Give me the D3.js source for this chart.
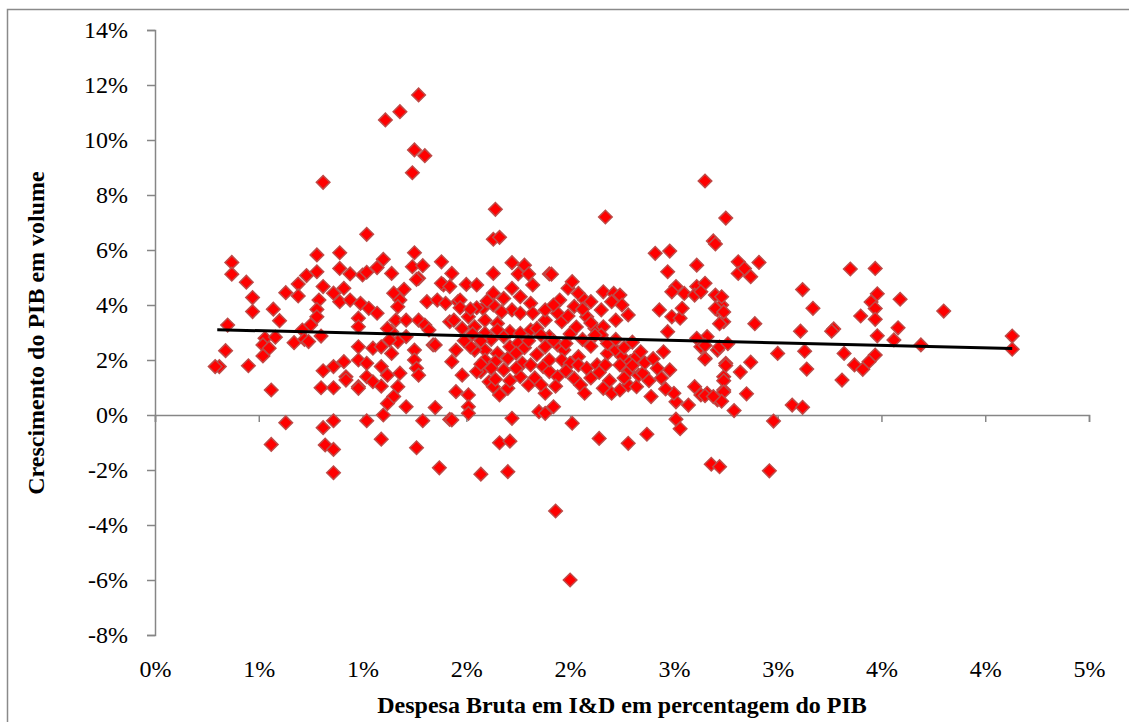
<!DOCTYPE html>
<html>
<head>
<meta charset="utf-8">
<script src="https://cdn.jsdelivr.net/npm/d3@7"></script>
<style>
  body { margin: 0; background: #fff; }
  text { font-family: "Times New Roman", "Liberation Serif", serif; }
</style>
</head>
<body>
<div id="chart"></div>
<script>
// R&D expenditure (% of GDP) vs GDP volume growth (%)
var rdPct = [
  1.27,1.18,1.11,1.25,1.30,1.24,0.81,1.64,1.63,1.66,1.02,0.37,0.37,0.78,0.78,0.89,0.89,0.94,1.00,1.02,
  1.10,1.07,1.14,1.25,1.24,1.29,1.27,1.38,1.43,1.63,1.72,1.75,1.78,1.80,1.90,
  0.44,0.47,0.47,0.35,0.34,0.31,0.29,0.45,0.57,0.60,0.63,0.69,0.69,0.73,0.81,0.79,0.78,0.78,0.75,0.71,
  0.53,0.52,0.55,0.52,0.58,0.67,0.72,0.74,0.80,0.56,0.81,0.86,0.80,0.86,0.86,0.89,0.91,0.94,0.99,1.03,
  1.07,0.98,0.98,0.98,0.98,1.02,1.05,1.09,0.91,0.92,0.98,1.02,1.05,1.09,1.09,1.12,1.14,1.18,1.17,1.15,
  1.12,1.10,1.21,1.35,0.63,0.81,0.86,0.56,0.82,0.86,0.86,1.02,1.09,1.26,1.29,1.37,1.42,1.26,1.15,1.20,
  1.18,1.17,1.16,1.21,1.14,1.12,1.27,1.30,1.32,1.34,1.25,1.25,1.21,1.17,1.13,1.31,1.36,1.40,1.39,1.42,
  1.26,1.27,0.92,0.98,
  1.38,1.42,1.46,1.47,1.44,1.51,1.48,1.54,1.35,1.45,1.43,1.48,1.45,1.51,1.51,1.51,1.50,1.55,1.82,1.91,
  1.72,1.76,1.68,1.63,1.63,1.58,1.59,1.65,1.72,1.76,1.81,1.82,1.59,1.65,1.71,1.76,1.81,1.84,1.59,1.65,
  1.71,1.75,1.54,1.52,1.59,1.64,1.70,1.57,1.62,1.68,1.55,1.61,1.63,1.66,1.70,1.76,1.80,1.88,1.77,1.81,
  1.87,1.90,1.94,1.90,1.88,1.94,1.97,1.90,1.88,1.88,1.94,1.95,1.96,1.99,2.01,2.04,2.07,2.10,2.08,2.12,
  2.15,2.16,2.21,2.24,2.20,2.25,2.28,2.22,2.16,2.15,1.96,2.00,2.04,2.04,2.08,2.13,2.17,2.18,2.22,2.25,
  2.29,2.32,2.28,2.24,2.02,2.05,2.07,2.16,2.20,2.24,2.28,2.32,2.33,2.35,2.39,2.42,2.45,2.48,2.47,2.49,
  2.53,2.54,2.51,2.55,2.61,2.49,2.43,2.47,2.61,2.41,2.60,2.65,2.70,2.73,2.71,2.74,2.66,2.61,2.63,2.65,
  2.71,2.75,2.74,2.74,2.71,2.66,2.63,2.60,2.57,2.53,2.51,2.51,2.50,1.43,1.72,1.66,1.71,1.57,1.70,2.01,
  2.14,2.28,2.37,2.68,2.72,1.85,1.88,1.92,1.93,2.00,
  2.81,2.91,2.81,2.87,2.84,3.35,3.47,3.12,3.17,3.11,3.27,3.26,3.48,3.45,3.47,3.47,3.40,3.59,3.80,3.48,
  3.58,3.56,3.69,4.13,4.13,3.00,3.13,3.32,3.47,3.44,3.37,3.41,3.31,3.14,3.07,3.12,2.98,2.96,
  2.63,2.73,2.70,2.74,2.72,2.65,2.72,2.76,2.65,2.75,2.74,2.82,2.87,2.89,2.85,2.79,2.74,2.73,2.65,2.69,
  2.17,2.65,2.75,2.69,2.70,2.48,
  1.55,1.60,1.67,1.62,1.68,1.74,1.78,1.80,1.84,1.86,1.92,1.98,2.00,2.03,2.06,2.10,2.12,2.18,2.22,2.26,
  2.30,2.34,1.99,2.02,2.06,2.10,1.92,1.57,1.53,1.49,1.47,1.52,1.57,1.64,1.71,1.74,1.83,1.86,1.93,1.98,
  2.10,2.14,2.19,2.26,2.30,2.36,2.40,2.38,2.44,2.46
];
var gdpGrowth = [
  11.64,11.03,10.73,9.64,9.43,8.81,8.46,7.48,6.39,6.46,6.57,5.55,5.12,5.82,5.21,5.90,5.33,5.13,5.09,5.19,
  5.66,5.36,5.15,5.90,5.39,5.43,4.97,5.57,5.15,5.15,5.54,5.13,5.45,5.13,5.13,
  4.83,4.27,3.76,3.27,2.34,1.76,1.76,1.79,3.85,3.43,4.45,4.76,4.33,5.07,4.67,4.18,3.84,3.57,3.27,3.09,
  2.79,2.55,2.43,2.15,2.83,2.63,2.75,2.67,2.87,0.91,1.61,1.76,0.99,0.99,4.43,4.12,4.61,4.18,4.06,3.88,
  3.70,3.52,3.21,2.48,2.00,1.88,2.43,2.48,1.94,1.39,1.03,1.39,1.21,1.05,1.76,1.45,2.24,1.52,1.03,0.67,
  0.42,0.00,0.30,0.27,-0.28,-0.46,-0.21,-1.07,-1.09,-1.25,-2.10,-0.21,-0.88,-1.19,-0.21,-1.92,-0.16,4.93,4.43,4.57,
  4.18,3.94,3.45,3.45,3.03,3.15,3.45,3.27,3.09,2.55,2.36,2.00,2.85,2.67,2.73,4.12,4.18,4.06,4.73,3.39,
  1.70,1.45,1.27,0.97,
  4.79,4.67,4.12,4.18,3.45,3.57,3.15,3.21,2.55,2.36,1.94,1.45,0.85,0.73,0.30,0.06,4.75,4.73,4.73,5.12,
  4.61,4.30,4.24,4.43,4.00,3.88,3.45,3.33,3.82,3.70,4.06,3.70,2.97,3.09,3.03,2.97,3.09,3.15,2.36,2.24,
  2.48,2.61,2.36,2.48,2.00,1.94,2.06,1.58,1.70,1.64,1.58,1.21,1.03,0.73,0.97,1.39,1.09,0.79,1.88,1.82,
  1.76,1.58,1.39,2.00,2.48,2.55,2.36,2.85,3.45,3.82,3.70,4.18,3.39,4.61,4.85,4.42,4.18,4.12,3.57,3.15,
  3.82,4.48,4.42,4.36,4.12,4.00,3.64,3.45,3.21,2.91,2.00,1.88,2.12,1.82,1.70,1.82,1.82,2.24,2.36,2.12,
  1.94,2.12,1.58,1.82,1.33,1.09,0.79,0.97,0.79,0.91,1.09,1.03,1.45,1.52,0.67,1.70,2.30,1.64,3.03,3.57,
  3.52,3.88,4.67,4.42,4.67,4.48,3.82,5.21,5.45,5.88,4.36,4.79,4.36,4.00,3.82,3.39,2.85,2.79,2.48,2.06,
  2.36,1.88,1.39,0.91,0.55,0.79,0.73,1.03,0.36,-0.50,-0.15,0.48,0.79,-0.18,-0.12,-1.01,-0.95,-2.15,-2.06,-0.30,
  -0.85,-1.03,-0.70,-1.79,-1.88,0.12,0.06,0.30,-3.49,-6.00,
  5.57,5.55,5.15,5.03,5.33,5.31,5.33,4.56,3.88,3.05,3.13,3.05,4.41,4.11,3.87,3.48,3.60,4.21,3.78,2.88,
  3.17,2.73,2.55,2.87,2.39,2.24,2.32,2.24,2.18,1.94,1.82,1.66,1.27,1.67,0.36,0.28,-0.22,-2.03,
  4.48,4.30,3.87,3.75,3.32,2.53,2.47,2.59,2.04,1.80,1.25,1.56,1.92,3.32,0.77,0.16,0.84,0.50,0.70,0.67,
  7.20,8.51,7.16,6.33,6.22,5.96,
  3.90,4.15,3.75,2.75,2.85,2.25,2.45,2.70,2.20,2.90,2.70,2.60,2.95,3.20,2.75,2.50,2.90,2.60,2.75,2.45,
  2.65,2.30,3.60,3.95,3.85,3.35,4.00,2.70,2.95,2.70,3.90,3.85,1.85,1.30,1.25,1.70,1.35,1.10,1.05,1.60,
  1.35,1.55,1.25,1.35,1.80,1.90,2.05,1.25,1.35,0.95
];

// linear trend line, end points
var trendX = [0.30, 4.13];
var trendY = [3.10, 2.42];

var xTicks = [0, 0.5, 1, 1.5, 2, 2.5, 3, 3.5, 4, 4.5];
var yTicks = [-8, -6, -4, -2, 0, 2, 4, 6, 8, 10, 12, 14];

var width = 1129, height = 722;
var margin = { top: 30, right: 40, bottom: 87, left: 155 };

var svg = d3.select("#chart").append("svg")
    .attr("width", width)
    .attr("height", height);

// chart frame
svg.append("rect")
    .attr("x", 7.5).attr("y", 9.5)
    .attr("width", 1140).attr("height", 730)
    .attr("fill", "none")
    .attr("stroke", "#8a8a8a")
    .attr("stroke-width", 1.5);

var x = d3.scaleLinear().domain([0, 4.5]).range([margin.left, 1089]);
var y = d3.scaleLinear().domain([-8, 14]).range([635, margin.top]);

var axisColor = "#868686";

// y axis
var yAxis = svg.append("g")
    .attr("transform", "translate(" + margin.left + ",0)")
    .call(d3.axisLeft(y).tickValues(yTicks).tickSize(8).tickPadding(19)
        .tickFormat(function(d) { return d + "%"; }));
yAxis.selectAll("path, line").attr("stroke", axisColor).attr("stroke-width", 1.5);
yAxis.selectAll("text").attr("font-size", 24).attr("fill", "#000")
    .style("font-family", '"Times New Roman", "Liberation Serif", serif');

// x axis line at 0%
var xAxis = svg.append("g")
    .attr("transform", "translate(0," + y(0) + ")")
    .call(d3.axisBottom(x).tickValues(xTicks).tickSize(7).tickSizeOuter(7).tickFormat(""));
xAxis.selectAll("path, line").attr("stroke", axisColor).attr("stroke-width", 1.5);

// x tick labels at the bottom
var xLab = svg.append("g")
    .attr("transform", "translate(0,660)")
    .call(d3.axisBottom(x).tickValues(xTicks).tickSize(0).tickPadding(0)
        .tickFormat(function(d) { return Math.round(d) + "%"; }));
xLab.select(".domain").remove();
xLab.selectAll("text").attr("font-size", 24).attr("fill", "#000")
    .style("font-family", '"Times New Roman", "Liberation Serif", serif');

// points
var pts = rdPct.map(function(v, i) { return [v, gdpGrowth[i]]; });
var diamond = d3.symbol().type(d3.symbolSquare).size(92);

svg.append("g")
  .selectAll("path")
  .data(pts)
  .enter()
  .append("path")
    .attr("d", diamond)
    .attr("transform", function(d) {
      return "translate(" + x(d[0]) + "," + y(d[1]) + ") rotate(45)";
    })
    .attr("fill", "#ff0000")
    .attr("stroke", "#be4b48")
    .attr("stroke-width", 1.5);

// trend line
svg.append("line")
    .attr("x1", x(trendX[0])).attr("y1", y(trendY[0]))
    .attr("x2", x(trendX[1])).attr("y2", y(trendY[1]))
    .attr("stroke", "#000")
    .attr("stroke-width", 3);

// axis titles
svg.append("text")
    .attr("x", (margin.left + 1089) / 2)
    .attr("y", 713)
    .attr("text-anchor", "middle")
    .attr("font-size", 24)
    .attr("font-weight", "bold")
    .text("Despesa Bruta em I&D em percentagem do PIB");

svg.append("text")
    .attr("transform", "translate(44,333) rotate(-90)")
    .attr("text-anchor", "middle")
    .attr("font-size", 24)
    .attr("font-weight", "bold")
    .text("Crescimento do PIB em volume");
</script>
</body>
</html>
